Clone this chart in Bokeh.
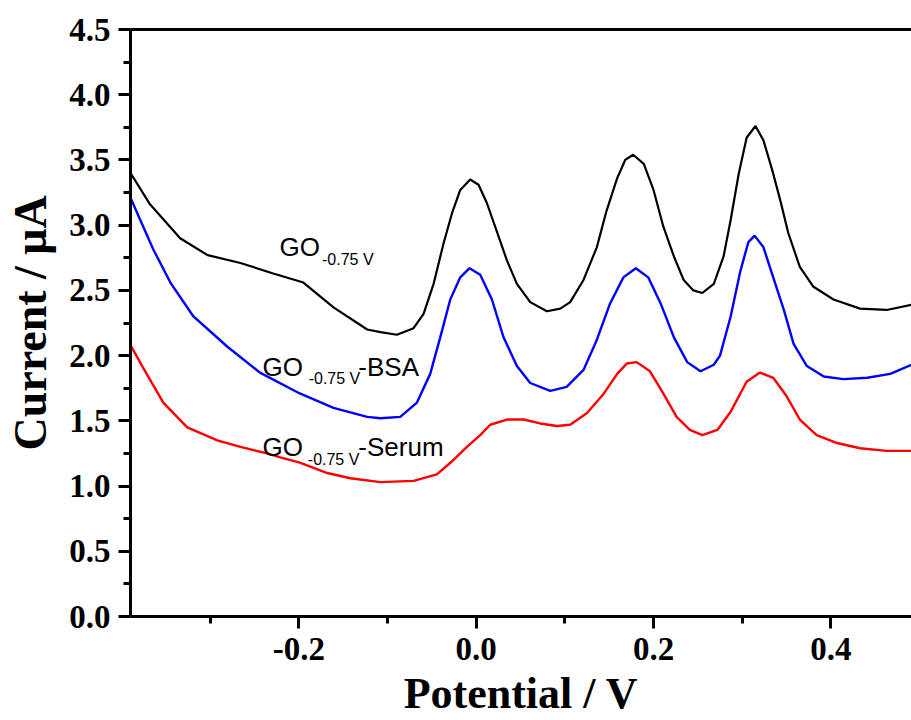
from bokeh.plotting import figure
from bokeh.models import Range1d, FixedTicker, LinearAxis, Label, PrintfTickFormatter
from bokeh.embed import file_html
from bokeh.resources import INLINE

# ---- data ----
go_x = [-0.390, -0.368, -0.334, -0.303, -0.266, -0.229, -0.195, -0.161, -0.123, -0.108,
        -0.0895, -0.0707, -0.0594, -0.0481, -0.0369, -0.0274, -0.0180, -0.0068, 0.0026, 0.0120,
        0.0233, 0.0346, 0.0459, 0.0609, 0.0797, 0.0948, 0.106, 0.121, 0.136, 0.147,
        0.159, 0.168, 0.177, 0.189, 0.200, 0.211, 0.223, 0.234, 0.245, 0.255,
        0.268, 0.279, 0.287, 0.296, 0.305, 0.315, 0.324, 0.334, 0.343, 0.352,
        0.365, 0.380, 0.403, 0.433, 0.463, 0.491]
go_y = [3.40, 3.16, 2.90, 2.77, 2.71, 2.63, 2.56, 2.37, 2.20, 2.18,
        2.16, 2.21, 2.32, 2.55, 2.86, 3.09, 3.27, 3.35, 3.31, 3.17,
        2.95, 2.73, 2.55, 2.41, 2.34, 2.36, 2.41, 2.58, 2.83, 3.11,
        3.36, 3.50, 3.54, 3.47, 3.27, 2.99, 2.76, 2.58, 2.50, 2.48,
        2.55, 2.76, 3.04, 3.39, 3.67, 3.76, 3.65, 3.42, 3.19, 2.94,
        2.68, 2.53, 2.43, 2.36, 2.35, 2.39]

bsa_x = [-0.390, -0.379, -0.364, -0.345, -0.319, -0.281, -0.244, -0.199, -0.161, -0.123,
         -0.108, -0.0857, -0.0669, -0.0519, -0.0406, -0.0293, -0.0180, -0.0075, 0.0045, 0.0177,
         0.0308, 0.0459, 0.0609, 0.0835, 0.102, 0.121, 0.136, 0.151, 0.166, 0.180,
         0.194, 0.208, 0.223, 0.238, 0.253, 0.268, 0.275, 0.287, 0.298, 0.307,
         0.314, 0.324, 0.335, 0.347, 0.358, 0.373, 0.392, 0.414, 0.441, 0.467, 0.491]
bsa_y = [3.21, 3.04, 2.81, 2.56, 2.30, 2.07, 1.87, 1.71, 1.60, 1.53,
         1.52, 1.53, 1.64, 1.86, 2.14, 2.43, 2.60, 2.67, 2.62, 2.43,
         2.14, 1.92, 1.79, 1.73, 1.76, 1.89, 2.12, 2.40, 2.60, 2.67,
         2.60, 2.40, 2.14, 1.95, 1.88, 1.93, 2.00, 2.30, 2.65, 2.87,
         2.92, 2.83, 2.60, 2.35, 2.09, 1.92, 1.84, 1.82, 1.83, 1.86, 1.93]

serum_x = [-0.390, -0.376, -0.353, -0.326, -0.292, -0.266, -0.236, -0.221, -0.199, -0.168,
           -0.142, -0.108, -0.0707, -0.0444, -0.0256, -0.0105, 0.0045, 0.0158, 0.0346, 0.0534,
           0.0722, 0.0910, 0.106, 0.125, 0.144, 0.159, 0.170, 0.181, 0.196, 0.211,
           0.226, 0.241, 0.255, 0.272, 0.287, 0.298, 0.305, 0.320, 0.335, 0.350,
           0.365, 0.384, 0.407, 0.433, 0.463, 0.491]
serum_y = [2.08, 1.91, 1.64, 1.45, 1.35, 1.30, 1.25, 1.22, 1.18, 1.10,
           1.06, 1.03, 1.04, 1.09, 1.20, 1.30, 1.39, 1.47, 1.51, 1.51,
           1.48, 1.46, 1.47, 1.56, 1.71, 1.86, 1.94, 1.95, 1.88, 1.71,
           1.53, 1.43, 1.39, 1.43, 1.57, 1.71, 1.80, 1.87, 1.83, 1.69,
           1.51, 1.39, 1.33, 1.29, 1.27, 1.27]

x_major = [-0.4, -0.2, 0.0, 0.2, 0.4]
x_minor = [-0.3, -0.1, 0.1, 0.3]
y_major = [0.0, 0.5, 1.0, 1.5, 2.0, 2.5, 3.0, 3.5, 4.0, 4.5]
y_minor = [0.25, 0.75, 1.25, 1.75, 2.25, 2.75, 3.25, 3.75, 4.25]

x_title = "Potential / V"
y_title = "Current / \u03bcA"

p = figure(width=911, height=720,
           x_range=Range1d(-0.390, 0.491), y_range=Range1d(0.0, 4.5),
           output_backend="svg", toolbar_location=None,
           min_border_left=130, min_border_right=0,
           min_border_top=29, min_border_bottom=103)
p.xgrid.visible = False
p.ygrid.visible = False
p.outline_line_color = None
p.background_fill_color = "white"
p.border_fill_color = "white"

serif = "Liberation Serif"
sans = "Liberation Sans"

for ax, maj, mnr, title in ((p.xaxis[0], x_major, x_minor, x_title),
                            (p.yaxis[0], y_major, y_minor, y_title)):
    ax.ticker = FixedTicker(ticks=maj, minor_ticks=mnr)
    ax.formatter = PrintfTickFormatter(format="%.1f")
    ax.axis_line_width = 3
    ax.axis_line_color = "black"
    ax.major_tick_line_width = 3
    ax.minor_tick_line_width = 3
    ax.major_tick_out = 12
    ax.major_tick_in = 0
    ax.minor_tick_out = 7
    ax.minor_tick_in = 0
    ax.major_label_text_font = serif
    ax.major_label_text_font_style = "bold"
    ax.major_label_text_font_size = "33px"
    ax.major_label_text_color = "black"
    ax.axis_label = title
    ax.axis_label_text_font = serif
    ax.axis_label_text_font_style = "bold"
    ax.axis_label_text_color = "black"

p.xaxis[0].axis_label_text_font_size = "44px"
p.yaxis[0].axis_label_text_font_size = "46px"
p.xaxis[0].major_label_standoff = 9
p.yaxis[0].major_label_standoff = 8
p.xaxis[0].axis_label_standoff = 6
p.yaxis[0].axis_label_standoff = 10

top = LinearAxis(ticker=FixedTicker(ticks=[]), axis_line_width=3, axis_line_color="black",
                 major_tick_out=0, major_tick_in=0, minor_tick_out=0, minor_tick_in=0)
p.add_layout(top, "above")

p.line(go_x, go_y, line_color="black", line_width=2.2)
p.line(bsa_x, bsa_y, line_color="#0000ff", line_width=2.4)
p.line(serum_x, serum_y, line_color="#ff0000", line_width=2.4)

def lab(x, y, t, size):
    p.add_layout(Label(x=x, y=y, text=t, text_font=sans, text_font_size=size,
                       text_color="black", text_baseline="alphabetic", text_align="left"))

lab(-0.222, 2.833, "GO", "26px")
lab(-0.174, 2.737, "-0.75 V", "16px")
lab(-0.241, 1.915, "GO", "26px")
lab(-0.189, 1.826, "-0.75 V", "16px")
lab(-0.133, 1.915, "-BSA", "26px")
lab(-0.241, 1.298, "GO", "26px")
lab(-0.190, 1.207, "-0.75 V", "16px")
lab(-0.133, 1.298, "-Serum", "26px")

open("out.html", "w").write(file_html(p, INLINE))
